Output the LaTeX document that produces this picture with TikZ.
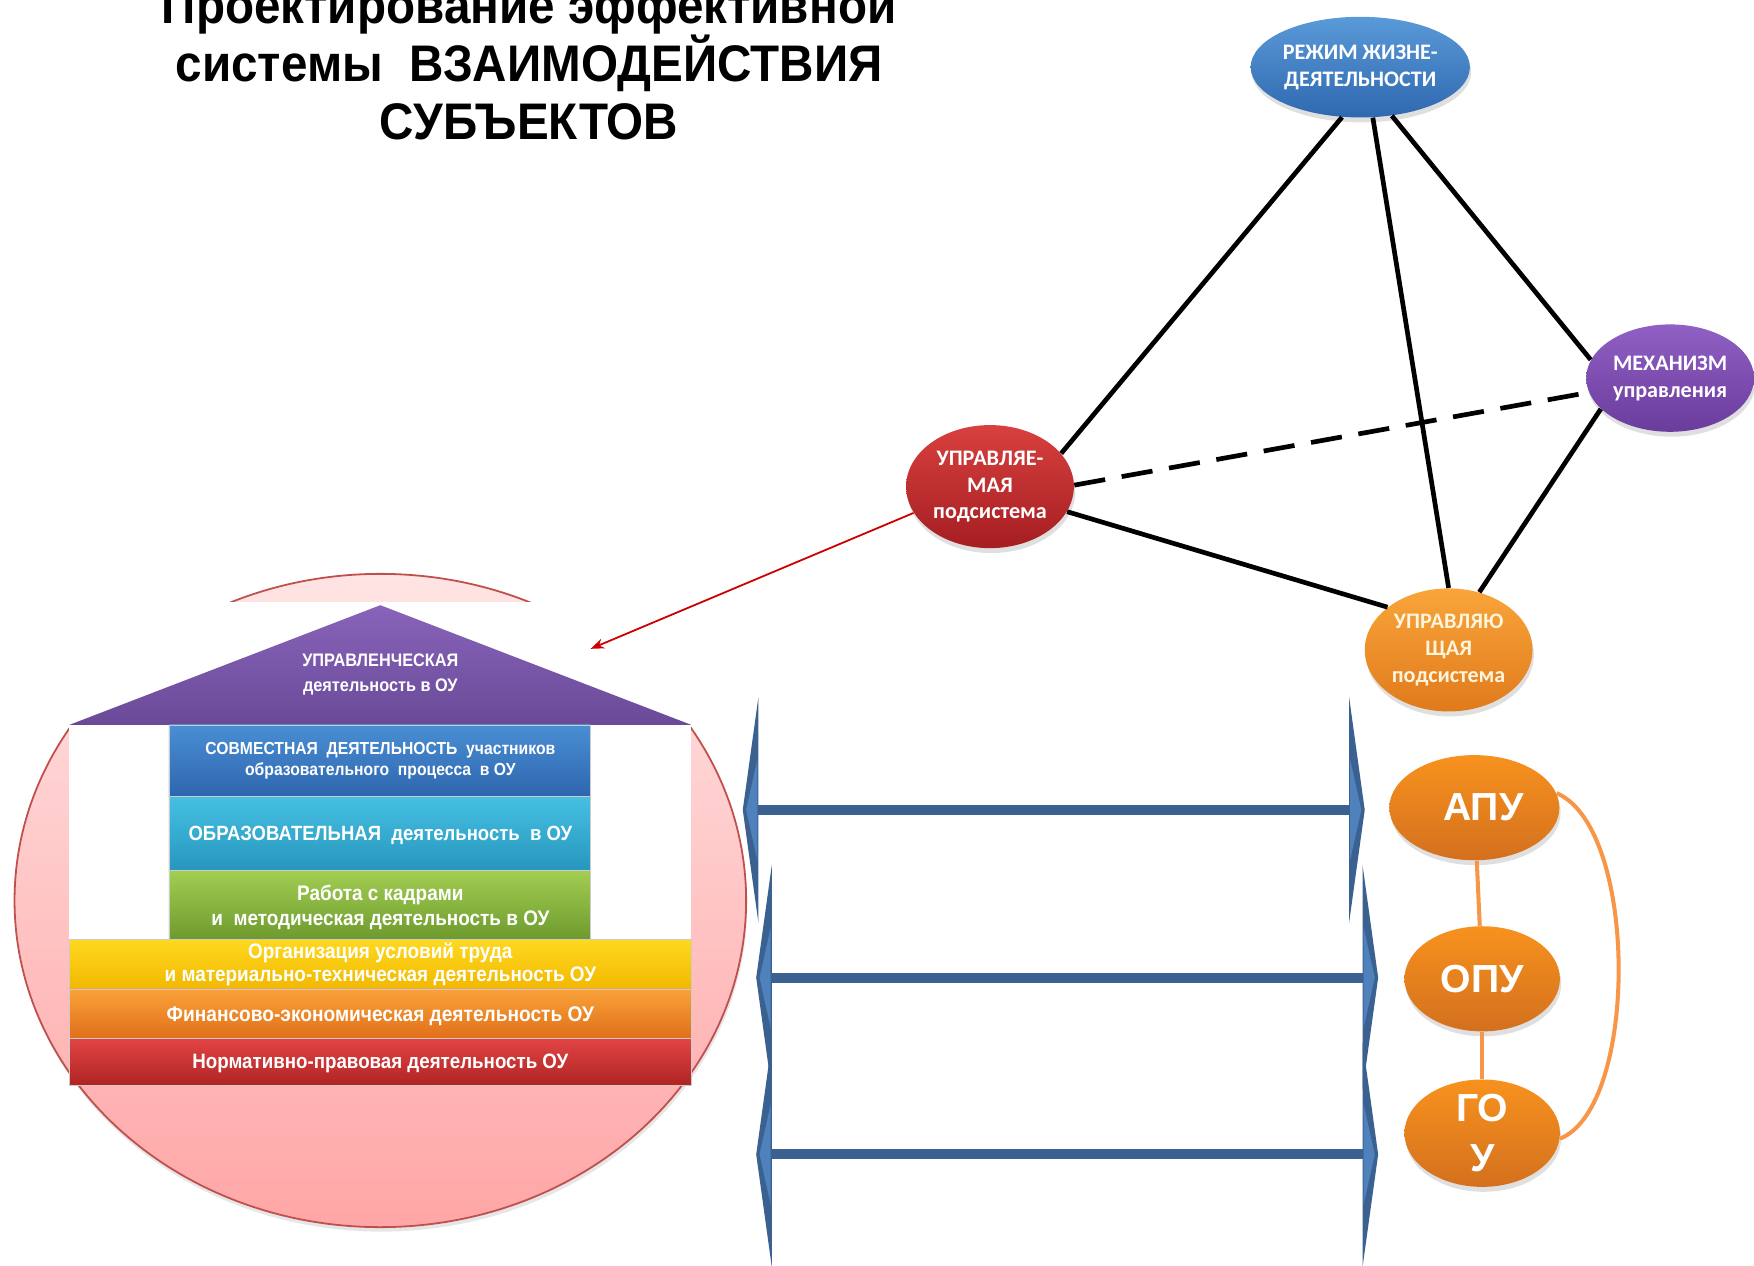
\documentclass[tikz,border=0pt]{standalone}
\usepackage{fontspec}
\setmainfont{Liberation Sans}
\newfontfamily\titlefont{Liberation Sans}[FakeStretch=0.925]
\newfontfamily\housefont{Liberation Sans}[FakeStretch=0.9]
\newfontfamily\calfont{Carlito}
\usetikzlibrary{shapes.geometric,arrows.meta,shadows}
\definecolor{rezhT}{HTML}{5A9AD8}\definecolor{rezhB}{HTML}{2F68B0}
\definecolor{uprT}{HTML}{D8403E}\definecolor{uprB}{HTML}{A51E22}
\definecolor{mechT}{HTML}{9060C4}\definecolor{mechB}{HTML}{6A3C9C}
\definecolor{uprjT}{HTML}{F9A53A}\definecolor{uprjB}{HTML}{E07A1C}
\definecolor{orT}{HTML}{F7921E}\definecolor{orB}{HTML}{D4701E}
\definecolor{pinkT}{HTML}{FFE4E4}\definecolor{pinkB}{HTML}{FFA6A6}\definecolor{pinkD}{HTML}{C0504D}
\definecolor{roofTc}{HTML}{8864BA}\definecolor{roofBc}{HTML}{6A4A98}
\definecolor{bAT}{HTML}{4A8ED4}\definecolor{bAB}{HTML}{2E66AE}
\definecolor{bBT}{HTML}{45C0E2}\definecolor{bBB}{HTML}{2896BE}
\definecolor{bCT}{HTML}{A2CE52}\definecolor{bCB}{HTML}{6E9A2E}
\definecolor{bDT}{HTML}{FFD820}\definecolor{bDB}{HTML}{F2B800}
\definecolor{bET}{HTML}{FAA23A}\definecolor{bEB}{HTML}{E0701A}
\definecolor{bFT}{HTML}{E24444}\definecolor{bFB}{HTML}{B02424}
\definecolor{arrblue}{HTML}{3B6190}\definecolor{arrlight}{HTML}{4F81BD}
\definecolor{curveor}{HTML}{F79646}
\definecolor{paletxt}{HTML}{FFF4DC}
\begin{document}
\begin{tikzpicture}[x=0.5pt,y=-0.5pt,
  every node/.style={inner sep=0pt},
  titletext/.style={font=\titlefont\bfseries\fontsize{23}{26}\selectfont, anchor=base},
  ell/.style={ellipse, inner sep=-8pt, text=white, align=center,
    font=\calfont\bfseries\fontsize{9.9}{12}\selectfont,
    drop shadow={opacity=0.25,shadow xshift=0.6pt,shadow yshift=-2.2pt}},
  orell/.style={ellipse, inner sep=-8pt, text=white, align=center,
    top color=orT, bottom color=orB,
    font=\bfseries\fontsize{17.5}{22.5}\selectfont,
    drop shadow={opacity=0.25,shadow xshift=0.6pt,shadow yshift=-2.2pt}},
  link/.style={line width=2.1pt, black},
  orlink/.style={line width=1.8pt, curveor},
  htext/.style={text=white, align=center, font=\housefont\bfseries},
  barbox/.style={draw=black!20, line width=0.3pt}
]
\useasboundingbox (0,0) rectangle (1568,1131);

% ---------- title ----------
\node[titletext] (t1) at (473,21) {Проектирование эффективной};
\node[titletext] (t2) at (473,73) {системы~ ВЗАИМОДЕЙСТВИЯ};
\node[titletext] (t3) at (473,125) {СУБЪЕКТОВ};

% ---------- pink circle and house ----------
\path[draw=pinkD, line width=0.8pt, top color=pinkT, bottom color=pinkB,
  drop shadow={opacity=0.2,shadow xshift=0.5pt,shadow yshift=-2pt}]
  (340,805) ellipse [x radius=163.5pt, y radius=146pt];
\fill[white] (62,538) rectangle (618,970);

\path[top color=roofTc, bottom color=roofBc] (340,541) -- (618,648) -- (62,648) -- cycle;
\path[barbox, top color=bAT, bottom color=bAB] (151,648) rectangle (528,712);
\path[barbox, top color=bBT, bottom color=bBB] (151,712) rectangle (528,778);
\path[barbox, top color=bCT, bottom color=bCB] (151,778) rectangle (528,840);
\path[barbox, top color=bDT, bottom color=bDB] (62,840) rectangle (618,884);
\path[barbox, top color=bET, bottom color=bEB] (62,884) rectangle (618,928);
\path[barbox, top color=bFT, bottom color=bFB] (62,928) rectangle (618,970);

\node[htext, font=\housefont\bfseries\fontsize{8.1}{11}\selectfont] (roof) at (340,603)
  {УПРАВЛЕНЧЕСКАЯ\\деятельность в ОУ};
\node[htext, font=\housefont\bfseries\fontsize{7.8}{9.6}\selectfont] (bA) at (340,680)
  {СОВМЕСТНАЯ~ ДЕЯТЕЛЬНОСТЬ~ участников\\образовательного~ процесса~ в ОУ};
\node[htext, font=\housefont\bfseries\fontsize{9.2}{11}\selectfont] (bB) at (340,747)
  {ОБРАЗОВАТЕЛЬНАЯ~ деятельность~ в ОУ};
\node[htext, font=\housefont\bfseries\fontsize{9.4}{11}\selectfont] (bC) at (340,811)
  {Работа с кадрами\\и~ методическая деятельность в ОУ};
\node[htext, font=\housefont\bfseries\fontsize{9.4}{10.5}\selectfont] (bD) at (340,862)
  {Организация условий труда\\и материально-техническая деятельность ОУ};
\node[htext, font=\housefont\bfseries\fontsize{9.5}{11}\selectfont] (bE) at (340,908)
  {Финансово-экономическая деятельность ОУ};
\node[htext, font=\housefont\bfseries\fontsize{9.3}{11}\selectfont] (bF) at (340,951)
  {Нормативно-правовая деятельность ОУ};

% ---------- tetrahedron ----------
\node[ell, minimum width=98pt, minimum height=45pt, top color=rezhT, bottom color=rezhB] (rezh) at (1216,60)
  {РЕЖИМ ЖИЗНЕ-\\ДЕЯТЕЛЬНОСТИ};
\node[ell, minimum width=75pt, minimum height=55pt, top color=uprT, bottom color=uprB] (upr) at (885,435)
  {УПРАВЛЯЕ-\\МАЯ\\подсистема};
\node[ell, minimum width=75pt, minimum height=48pt, top color=mechT, bottom color=mechB] (mech) at (1493,338)
  {МЕХАНИЗМ\\управления};
\node[ell, minimum width=75pt, minimum height=55pt, top color=uprjT, bottom color=uprjB, text=paletxt] (uprj) at (1295,581)
  {УПРАВЛЯЮ\\ЩАЯ\\подсистема};

\draw[link] (rezh.-110) -- (upr.25);
\draw[link] (rezh.-76) -- (uprj.90);
\draw[link] (rezh.-57) -- (mech.167);
\draw[link, dash pattern=on 14pt off 7.5pt] (upr.1) -- (mech.-170);
\draw[link] (upr.-18) -- (uprj.145);
\draw[link] (mech.-156) -- (uprj.62);

\coordinate (redtip) at (528,580);
\draw[red!80!black, line width=0.8pt, -{Stealth[length=6pt,width=4.5pt]}] (upr.-161) -- (redtip);

% ---------- double arrows ----------
\foreach \yy/\xl/\xr in {724/678/1206, 874/690/1218, 1032/690/1218}{
  \fill[arrblue] (\xl,\yy-4.5) rectangle (\xr,\yy+4.5);
  \fill[arrblue] (\xl,\yy-101) -- (\xl-14,\yy) -- (\xl,\yy+101) -- cycle;
  \fill[arrblue] (\xr,\yy-101) -- (\xr+14,\yy) -- (\xr,\yy+101) -- cycle;
  \fill[arrlight] (\xl-1,\yy-45) -- (\xl-11,\yy) -- (\xl-1,\yy+45) -- cycle;
  \fill[arrlight] (\xr+1,\yy-45) -- (\xr+11,\yy) -- (\xr+1,\yy+45) -- cycle;
}

% ---------- АПУ / ОПУ / ГОУ ----------
\node[orell, minimum width=76pt, minimum height=47pt] (apu) at (1318,722) {\hspace*{8pt}АПУ};
\node[orell, minimum width=69.5pt, minimum height=47pt] (opu) at (1325,875) {ОПУ};
\node[orell, minimum width=69.5pt, minimum height=48pt] (gou) at (1325,1013) {ГО\\У};
\draw[orlink] (apu) -- (opu);
\draw[orlink] (opu) -- (gou);
\draw[orlink] (apu.10) .. controls (1465,740) and (1465,990) .. (gou.-4);
\end{tikzpicture}
\end{document}
